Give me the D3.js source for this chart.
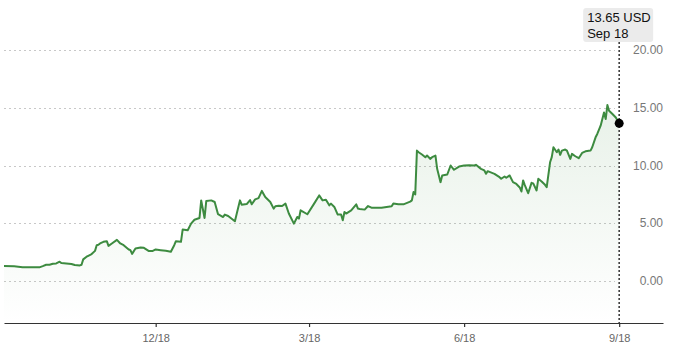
<!DOCTYPE html>
<html>
<head>
<meta charset="utf-8">
<script src="https://cdn.jsdelivr.net/npm/d3@7/dist/d3.min.js"></script>
<style>
  html, body { margin: 0; padding: 0; background: #fff; }
  svg { display: block; font-family: "Liberation Sans", Arial, Helvetica, sans-serif; }
</style>
</head>
<body>
<svg id="chart" width="680" height="351"></svg>
<script>
const dates = [
  "2023-09-19","2023-09-25","2023-09-30","2023-10-06","2023-10-10","2023-10-12","2023-10-14","2023-10-16",
  "2023-10-18","2023-10-20","2023-10-22","2023-10-23","2023-10-26","2023-10-29","2023-10-31","2023-11-03",
  "2023-11-04","2023-11-05","2023-11-07","2023-11-08","2023-11-10","2023-11-12","2023-11-13","2023-11-14",
  "2023-11-15","2023-11-17","2023-11-19","2023-11-20","2023-11-22","2023-11-25","2023-11-27","2023-11-29",
  "2023-12-02","2023-12-03","2023-12-04","2023-12-06","2023-12-09","2023-12-11","2023-12-14","2023-12-16",
  "2023-12-18","2023-12-21","2023-12-24","2023-12-27","2023-12-29","2023-12-30","2024-01-02","2024-01-03",
  "2024-01-06","2024-01-08","2024-01-10","2024-01-13","2024-01-14","2024-01-16","2024-01-17","2024-01-20",
  "2024-01-22","2024-01-24","2024-01-27","2024-01-28","2024-01-30","2024-02-03","2024-02-06","2024-02-07",
  "2024-02-10","2024-02-12","2024-02-13","2024-02-15","2024-02-17","2024-02-19","2024-02-21","2024-02-24",
  "2024-02-26","2024-02-27","2024-02-29","2024-03-02","2024-03-04","2024-03-06","2024-03-09","2024-03-11",
  "2024-03-12","2024-03-13","2024-03-17","2024-03-21","2024-03-24","2024-03-26","2024-03-28","2024-03-30",
  "2024-03-31","2024-04-02","2024-04-04","2024-04-06","2024-04-07","2024-04-08","2024-04-09","2024-04-12",
  "2024-04-15","2024-04-16","2024-04-17","2024-04-20","2024-04-22","2024-04-24","2024-04-27","2024-04-30",
  "2024-05-03","2024-05-06","2024-05-07","2024-05-10","2024-05-13","2024-05-17","2024-05-18","2024-05-19",
  "2024-05-20","2024-05-21","2024-05-22","2024-05-24","2024-05-26","2024-05-27","2024-05-29","2024-05-30",
  "2024-06-01","2024-06-02","2024-06-04","2024-06-05","2024-06-08","2024-06-10","2024-06-12","2024-06-15",
  "2024-06-18","2024-06-21","2024-06-24","2024-06-25","2024-06-28","2024-06-30","2024-07-01","2024-07-02",
  "2024-07-06","2024-07-09","2024-07-10","2024-07-12","2024-07-13","2024-07-15","2024-07-17","2024-07-19",
  "2024-07-21","2024-07-22","2024-07-23","2024-07-24","2024-07-26","2024-07-28","2024-07-29","2024-07-31",
  "2024-08-01","2024-08-03","2024-08-05","2024-08-06","2024-08-08","2024-08-09","2024-08-10","2024-08-12",
  "2024-08-13","2024-08-14","2024-08-15","2024-08-17","2024-08-18","2024-08-20","2024-08-21","2024-08-23",
  "2024-08-25","2024-08-27","2024-08-29","2024-09-01","2024-09-02","2024-09-04","2024-09-05","2024-09-07",
  "2024-09-09","2024-09-10","2024-09-11","2024-09-12","2024-09-14","2024-09-16","2024-09-18"
];
const prices = [
  1.29,1.27,1.20,1.18,1.18,1.29,1.41,1.41,
  1.50,1.52,1.67,1.55,1.52,1.47,1.38,1.35,
  1.41,1.87,2.10,2.18,2.33,2.61,3.10,3.13,
  3.25,3.39,3.45,3.04,3.25,3.56,3.25,3.10,
  2.73,2.67,2.35,2.82,2.90,2.87,2.59,2.59,
  2.73,2.67,2.61,2.53,3.10,3.45,3.39,4.45,
  4.40,4.97,5.30,5.46,6.98,5.46,6.92,6.98,
  6.84,5.78,5.54,5.75,5.63,5.17,6.98,6.61,
  6.66,7.01,6.64,7.07,7.18,7.80,7.27,6.84,
  6.27,6.47,6.52,6.49,6.70,5.84,4.97,5.54,
  5.40,6.12,5.78,6.70,7.41,6.98,7.04,6.55,
  6.70,6.41,5.75,5.75,5.26,5.98,5.84,6.12,
  6.64,6.27,6.23,6.18,6.49,6.35,6.35,6.35,
  6.41,6.47,6.70,6.64,6.64,6.87,6.98,7.70,
  7.50,11.29,11.15,10.95,10.72,10.86,10.57,10.72,
  10.86,9.71,8.56,9.14,9.22,10.00,9.63,9.91,
  10.00,10.03,10.00,10.06,9.71,9.57,9.28,9.51,
  9.28,8.99,8.85,9.05,8.94,9.14,8.56,8.40,
  8.10,7.75,8.71,8.30,7.60,8.50,8.45,7.84,
  8.85,8.62,8.33,8.13,10.28,10.72,11.58,11.15,
  11.38,10.92,11.29,11.38,11.29,10.57,11.01,10.80,
  10.63,11.09,11.23,11.29,11.58,12.44,12.73,13.45,
  14.59,14.02,15.23,14.74,14.46,14.16,13.65
];
const yTicks = [0, 5, 10, 15, 20];
const xTickDates = ["2023-12-18","2024-03-18","2024-06-18","2024-09-18"];
const xDomain = ["2023-09-19","2024-10-14"];
const tooltipValue = "13.65 USD";
const tooltipDate = "Sep 18";

const parse = d3.utcParse("%Y-%m-%d");
const data = dates.map((d, i) => ({ date: parse(d), value: prices[i] }));

const svg = d3.select("#chart");
const x = d3.scaleUtc().domain(xDomain.map(parse)).range([4, 663]);
const y = d3.scaleLinear().domain([0, 20]).range([281, 50]);
const axisY = 323;
const green = "#3d8b40";

// gradient
const defs = svg.append("defs");
const grad = defs.append("linearGradient").attr("id", "fillGrad")
  .attr("gradientUnits", "userSpaceOnUse").attr("x1", 0).attr("x2", 0).attr("y1", 100).attr("y2", axisY);
grad.append("stop").attr("offset", "0%").attr("stop-color", green).attr("stop-opacity", 0.12);
grad.append("stop").attr("offset", "100%").attr("stop-color", green).attr("stop-opacity", 0.0);

// gridlines
svg.append("g").selectAll("line").data(yTicks).join("line")
  .attr("x1", 4).attr("x2", 615)
  .attr("y1", d => Math.round(y(d)) + 0.5).attr("y2", d => Math.round(y(d)) + 0.5)
  .attr("stroke", "#c8c8c8").attr("stroke-width", 1).attr("stroke-dasharray", "2,3");

// y labels
svg.append("g").selectAll("text").data(yTicks).join("text")
  .attr("x", 663).attr("y", d => y(d)).attr("dy", "0.35em")
  .attr("text-anchor", "end").attr("font-size", 12).attr("fill", "#777")
  .text(d => d3.format(".2f")(d));

// area
const area = d3.area().x(d => x(d.date)).y0(axisY).y1(d => y(d.value));
svg.append("path").datum(data).attr("d", area).attr("fill", "url(#fillGrad)");

// x axis
const xAxis = d3.axisBottom(x)
  .tickValues(xTickDates.map(parse))
  .tickFormat(d3.utcFormat("%-m/%-d"))
  .tickSize(4).tickSizeOuter(0);
const gx = svg.append("g").attr("transform", `translate(0,${axisY})`).call(xAxis);
gx.select(".domain").attr("stroke", "#333").attr("stroke-width", 1.2);
gx.selectAll(".tick line").attr("stroke", "#333").attr("stroke-width", 1.2);
gx.selectAll(".tick text").attr("fill", "#666").attr("font-size", 11)
  .attr("font-family", "'Liberation Sans', Arial, sans-serif").attr("dy", "1.05em");

// line
const line = d3.line().x(d => x(d.date)).y(d => y(d.value));
svg.append("path").datum(data).attr("d", line)
  .attr("fill", "none").attr("stroke", green).attr("stroke-width", 2)
  .attr("stroke-linejoin", "round");

// tooltip / crosshair
const last = data[data.length - 1];
const lx = x(last.date);
svg.append("line").attr("x1", lx).attr("x2", lx).attr("y1", 42).attr("y2", axisY)
  .attr("stroke", "#333").attr("stroke-width", 1.5).attr("stroke-dasharray", "2,2");
svg.append("circle").attr("cx", lx).attr("cy", y(last.value)).attr("r", 4.5).attr("fill", "#000");

const tip = svg.append("g");
tip.append("rect").attr("x", lx - 36).attr("y", 8).attr("width", 70).attr("height", 34)
  .attr("rx", 3).attr("fill", "#ebebeb");
tip.append("text").attr("x", lx - 32).attr("y", 22).attr("font-size", 13).attr("fill", "#111")
  .text(tooltipValue);
tip.append("text").attr("x", lx - 32).attr("y", 38).attr("font-size", 13).attr("fill", "#111")
  .text(tooltipDate);
</script>
</body>
</html>
